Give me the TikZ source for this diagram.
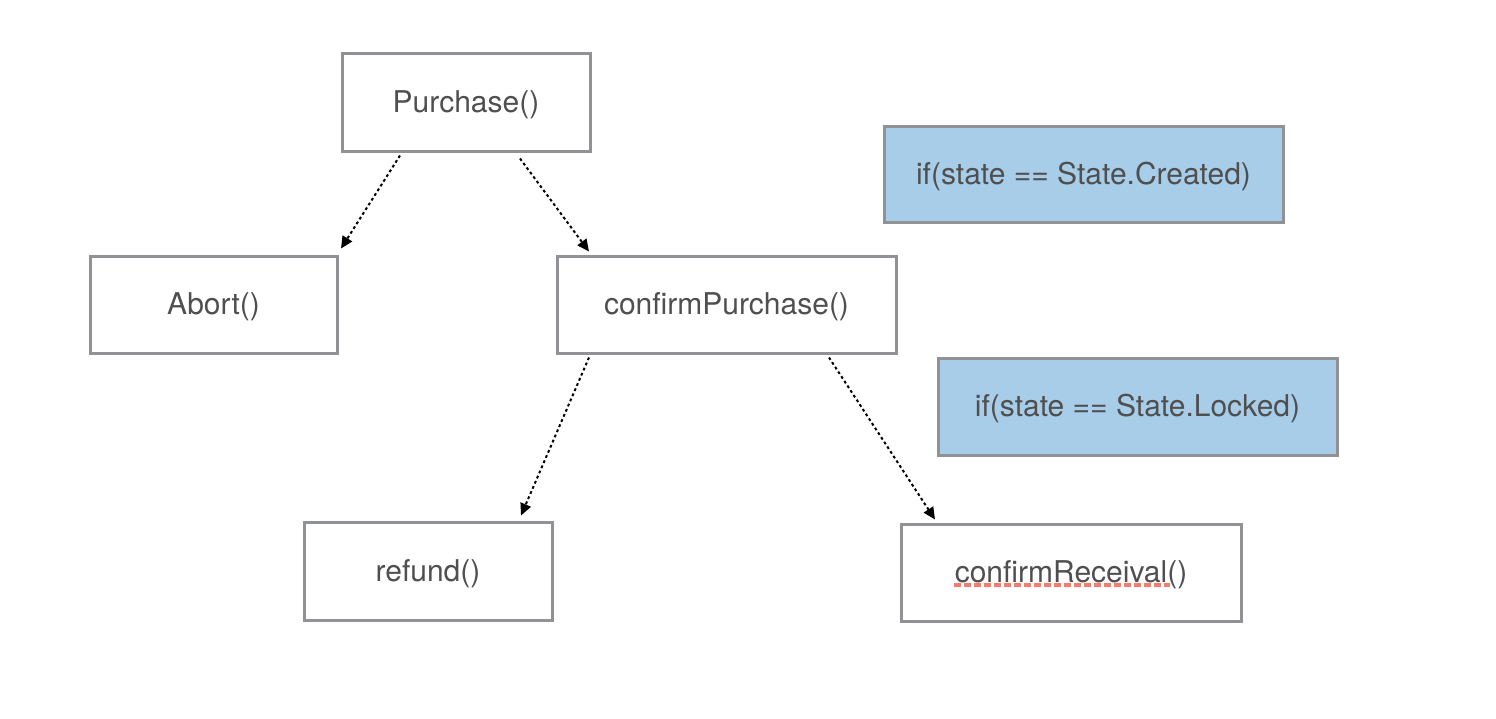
\documentclass[tikz,border=0pt]{standalone}
\usepackage{fontspec}
\setmainfont{TeX Gyre Heros}
\usetikzlibrary{arrows.meta,calc}
\definecolor{boxgray}{HTML}{909295}
\definecolor{txtgray}{HTML}{4F4F4F}
\definecolor{condblue}{HTML}{A7CDE8}
\definecolor{spellred}{HTML}{F47C6E}
\tikzset{
  fn/.style={draw=boxgray, line width=3pt, fill=white, inner sep=0pt,
    text=txtgray, font=\fontsize{30}{36}\selectfont,
    text height=23pt, text depth=3pt},
  cond/.style={fn, fill=condblue},
  flow/.style={line width=2pt, dash pattern=on 2.8pt off 2.8pt,
    -{Triangle[length=12pt,width=11pt]}},
  spell/.style={spellred, line width=3.5pt, dash pattern=on 7pt off 3pt}
}
\begin{document}
\begin{tikzpicture}[x=1pt,y=-1pt]
\useasboundingbox (0,0) rectangle (1496,718);
\node[fn, minimum width=248pt, minimum height=98pt] (purchase) at (466,102) {Purchase()};
\node[fn, minimum width=247pt, minimum height=97pt] (abort) at (213.5,304.5) {Abort()};
\node[fn, minimum width=339pt, minimum height=97pt] (confirm) at (726.5,304.5) {confirmPurchase()};
\node[fn, minimum width=248pt, minimum height=98pt] (refund) at (428,571) {refund()};
\node[fn, minimum width=340pt, minimum height=97pt] (receival) at (1071,572.5) {confirmReceival()};
\node[cond, minimum width=399pt, minimum height=96pt] (created) at (1083.5,174) {if(state == State.Created)};
\node[cond, minimum width=399pt, minimum height=97pt] (locked) at (1137.5,406.5) {if(state == State.Locked)};
\draw[flow] ($(purchase.south)+(-66,3)$) -- ($(abort.north)+(127.5,-6)$);
\draw[flow] ($(purchase.south)+(54,6)$) -- ($(confirm.north)+(-137.5,-3)$);
\draw[flow] ($(confirm.south)+(-137.5,3)$) -- ($(refund.north)+(93,-5)$);
\draw[flow] ($(confirm.south)+(102.5,3)$) -- ($(receival.north)+(-136,-3)$);
\draw[spell] ($(receival.center)+(-117,12.5)$) -- ++(216,0);
\end{tikzpicture}
\end{document}
